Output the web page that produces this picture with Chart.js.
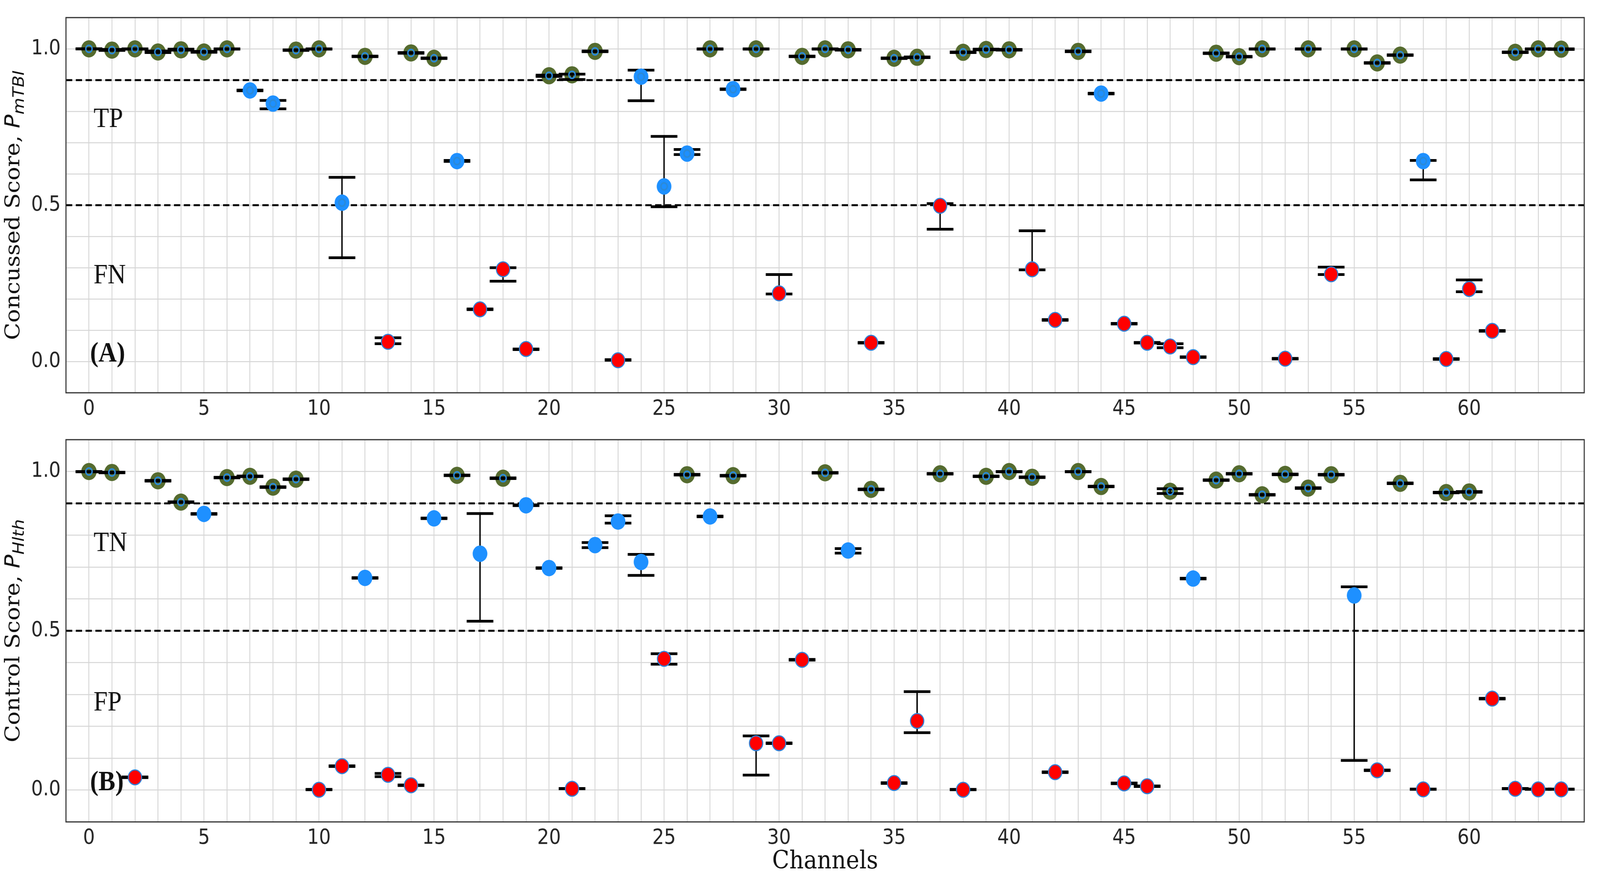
<!DOCTYPE html>
<html>
<head>
<meta charset="utf-8">
<title>Channel scores</title>
<script src="https://cdn.jsdelivr.net/npm/chart.js@4.4.1/dist/chart.umd.min.js"></script>
<style>
  html, body { margin: 0; padding: 0; background: #fff; overflow: hidden; }
  canvas { position: absolute; left: 0; display: block; }
</style>
</head>
<body>
<canvas id="chartA"></canvas>
<canvas id="chartB"></canvas>
<script>
// channel index on the x axis
const channels = [0,1,2,3,4,5,6,7,8,9,10,11,12,13,14,15,16,17,18,19,20,21,22,23,24,25,26,27,28,29,30,31,
  32,33,34,35,36,37,38,39,40,41,42,43,44,45,46,47,48,49,50,51,52,53,54,55,56,57,58,59,60,61,62,63,64];
const xTickLabels = [0,5,10,15,20,25,30,35,40,45,50,55,60];
const yTickLabels = [0.0,0.5,1.0];
const thresholds = [0.9,0.5];

// (A) concussed score per channel, with lower / upper error caps
const scoreA = [1.0,0.996,1.0,0.99,0.997,0.99,1.0,0.867,0.825,0.996,1.0,0.508,0.976,0.063,0.987,0.970,
  0.641,0.167,0.295,0.040,0.914,0.917,0.992,0.004,0.911,0.560,0.665,1.0,0.871,1.0,0.218,0.976,
  1.0,0.997,0.060,0.970,0.973,0.498,0.989,0.998,0.997,0.295,0.133,0.992,0.857,0.121,0.060,0.048,
  0.014,0.986,0.975,1.0,0.009,1.0,0.279,1.0,0.955,0.980,0.641,0.008,0.232,0.098,0.989,1.0,0.999];
const lowA = [1.0,0.995,0.999,0.988,0.996,0.989,0.999,0.866,0.808,0.995,0.999,0.332,0.975,0.057,0.986,0.969,
  0.640,0.166,0.257,0.038,0.912,0.902,0.991,0.004,0.834,0.495,0.662,0.999,0.870,0.999,0.216,0.975,
  0.999,0.996,0.059,0.969,0.972,0.423,0.988,0.997,0.996,0.293,0.132,0.991,0.856,0.120,0.059,0.044,
  0.013,0.985,0.974,0.999,0.008,0.999,0.278,0.999,0.954,0.979,0.581,0.007,0.223,0.097,0.988,0.999,0.998];
const highA = [1.0,0.998,1.0,0.993,0.999,0.992,1.0,0.868,0.835,0.997,1.0,0.589,0.977,0.076,0.988,0.971,
  0.643,0.168,0.300,0.040,0.916,0.919,0.993,0.006,0.932,0.720,0.678,1.0,0.872,1.0,0.278,0.977,
  1.0,0.998,0.061,0.971,0.974,0.505,0.990,0.999,0.998,0.418,0.134,0.993,0.858,0.122,0.061,0.057,
  0.015,0.987,0.976,1.0,0.010,1.0,0.302,1.0,0.956,0.981,0.643,0.009,0.261,0.099,0.990,1.0,1.0];
// 2 = above 0.9 (green), 1 = between (blue), 0 = below 0.5 (red)
const levelA = [2,2,2,2,2,2,2,1,1,2,2,1,2,0,2,2,1,0,0,0,2,2,2,0,1,1,1,2,1,2,0,2,
  2,2,0,2,2,0,2,2,2,0,0,2,1,0,0,0,0,2,2,2,0,2,0,2,2,2,1,0,0,0,2,2,2];

// (B) control score per channel
const scoreB = [1.0,0.997,0.040,0.971,0.904,0.867,0.981,0.985,0.951,0.976,0.001,0.075,0.666,0.048,0.015,0.853,
  0.988,0.742,0.979,0.894,0.697,0.004,0.769,0.843,0.716,0.412,0.990,0.859,0.987,0.147,0.147,0.409,
  0.996,0.752,0.944,0.022,0.217,0.993,0.001,0.985,1.0,0.982,0.056,1.0,0.953,0.021,0.012,0.938,
  0.664,0.973,0.993,0.927,0.991,0.948,0.990,0.611,0.062,0.963,0.002,0.934,0.936,0.287,0.004,0.002,0.002];
const lowB = [0.999,0.996,0.039,0.970,0.903,0.866,0.980,0.984,0.950,0.975,0.001,0.074,0.665,0.042,0.014,0.852,
  0.987,0.530,0.978,0.893,0.696,0.004,0.761,0.838,0.674,0.395,0.989,0.858,0.986,0.047,0.146,0.408,
  0.995,0.744,0.943,0.021,0.180,0.992,0.001,0.984,0.999,0.981,0.055,0.999,0.952,0.020,0.011,0.931,
  0.663,0.972,0.992,0.926,0.990,0.947,0.989,0.093,0.061,0.962,0.002,0.933,0.935,0.286,0.004,0.002,0.002];
const highB = [1.0,0.998,0.041,0.972,0.905,0.868,0.982,0.986,0.952,0.977,0.002,0.076,0.667,0.052,0.016,0.854,
  0.989,0.868,0.980,0.895,0.698,0.005,0.777,0.861,0.740,0.428,0.991,0.860,0.988,0.170,0.148,0.410,
  0.997,0.758,0.945,0.023,0.309,0.994,0.002,0.986,1.0,0.983,0.057,1.0,0.954,0.022,0.013,0.946,
  0.665,0.974,0.994,0.928,0.992,0.949,0.991,0.638,0.063,0.964,0.003,0.935,0.937,0.288,0.005,0.003,0.003];
const levelB = [2,2,0,2,2,1,2,2,2,2,0,0,1,0,0,1,2,1,2,1,1,0,1,1,1,0,2,1,2,0,0,0,
  2,1,2,0,0,2,0,2,2,2,0,2,2,0,0,2,1,2,2,2,2,2,2,1,0,2,0,2,2,0,0,0,0];

const GREEN = '#556B2F';
const BLUE = '#1E90FF';
const RED = '#FF0000';

// charts are drawn on a fixed 4562 x 2244 drawing grid, then stretched to fill the viewport
const SY = window.innerHeight / 2244;

function placeCanvas(id, top, height) {
  const c = document.getElementById(id);
  c.width = 4562;
  c.height = height;
  c.style.top = (top * SY) + 'px';
  c.style.width = window.innerWidth + 'px';
  c.style.height = (height * SY) + 'px';
}
placeCanvas('chartA', 0, 1100);
placeCanvas('chartB', 1080, 1164);

Chart.defaults.font.family = '"DejaVu Sans", sans-serif';
Chart.defaults.color = '#262626';

// dashed threshold lines, region labels, frame and the mixed-font y title
const decorPlugin = {
  id: 'decor',
  beforeDatasetsDraw(chart) {
    const ctx = chart.ctx, area = chart.chartArea;
    const x = chart.scales.x, y = chart.scales.y;
    const cfg = chart.options.plugins.decor;
    ctx.save();
    ctx.strokeStyle = '#000';
    ctx.lineWidth = 5;
    ctx.setLineDash([18, 10]);
    thresholds.forEach(t => {
      const py = y.getPixelForValue(t);
      ctx.beginPath();
      ctx.moveTo(area.left, py);
      ctx.lineTo(area.right, py);
      ctx.stroke();
    });
    ctx.setLineDash([]);
    ctx.fillStyle = '#111';
    ctx.textBaseline = 'alphabetic';
    ctx.textAlign = 'left';
    ctx.font = '72px "Liberation Serif", serif';
    ctx.fillText(cfg.upper, x.getPixelForValue(0.2), y.getPixelForValue(0.75));
    ctx.fillText(cfg.lower, x.getPixelForValue(0.2), y.getPixelForValue(0.25));
    ctx.font = 'bold 72px "Liberation Serif", serif';
    ctx.fillText(cfg.tag, x.getPixelForValue(0.05), y.getPixelForValue(0.0));
    ctx.restore();
  },
  afterDraw(chart) {
    const ctx = chart.ctx, area = chart.chartArea;
    const cfg = chart.options.plugins.decor;
    ctx.save();
    ctx.strokeStyle = '#333';
    ctx.lineWidth = 3;
    ctx.strokeRect(area.left, area.top, area.right - area.left, area.bottom - area.top);

    const mainFont = '58px "DejaVu Serif", serif';
    const symFont = 'italic 58px "DejaVu Sans", sans-serif';
    const subFont = 'italic 44px "DejaVu Sans", sans-serif';
    ctx.font = mainFont; const w1 = ctx.measureText(cfg.title).width;
    ctx.font = symFont; const w2 = ctx.measureText('P').width;
    ctx.font = subFont; const w3 = ctx.measureText(cfg.sub).width;
    const total = w1 + w2 + w3;
    ctx.translate(55, (area.top + area.bottom) / 2);
    ctx.rotate(-Math.PI / 2);
    ctx.fillStyle = '#111';
    ctx.textBaseline = 'alphabetic';
    ctx.textAlign = 'left';
    let tx = -total / 2;
    ctx.font = mainFont; ctx.fillText(cfg.title, tx, 0); tx += w1;
    ctx.font = symFont; ctx.fillText('P', tx, 0); tx += w2;
    ctx.font = subFont; ctx.fillText(cfg.sub, tx, 13);
    ctx.restore();
  }
};

function buildPanel(id, score, low, high, level, opts) {
  const pick = lv => channels.filter((c, i) => level[i] === lv).map(c => ({x: c, y: score[c]}));
  const bars = [];
  const caps = [];
  channels.forEach((c, i) => {
    bars.push({x: c, y: low[i]}, {x: c, y: high[i]}, {x: c, y: null});
    caps.push({x: c, y: low[i]}, {x: c, y: high[i]});
  });
  const rings = channels.filter((c, i) => level[i] === 2 || (opts.blueRing && level[i] === 1))
    .map(c => ({x: c, y: score[c]}));

  const ctx = document.getElementById(id).getContext('2d');
  return new Chart(ctx, {
    type: 'scatter',
    data: {
      datasets: [
        { label: 'high', data: pick(2), order: 6, pointRadius: 22, pointBackgroundColor: GREEN,
          pointBorderWidth: 0 },
        { label: 'error', type: 'line', data: bars, order: 5, borderColor: '#000', borderWidth: 4,
          pointRadius: 0, spanGaps: false, fill: false },
        { label: 'caps', data: caps, order: 4, pointStyle: 'line', pointRadius: 38,
          pointBorderColor: '#000', pointBorderWidth: 7 },
        { label: 'mid', data: pick(1), order: 3, pointRadius: 21, pointBackgroundColor: BLUE,
          pointBorderWidth: 0 },
        { label: 'low', data: pick(0), order: 3, pointRadius: 19, pointBackgroundColor: RED,
          pointBorderColor: '#2f80d6', pointBorderWidth: 3 },
        { label: 'ring', data: rings, order: 1, pointRadius: 9, pointBackgroundColor: 'rgba(0,0,0,0)',
          pointBorderColor: '#2b8ad8', pointBorderWidth: 4 }
      ]
    },
    options: {
      responsive: false,
      devicePixelRatio: 1,
      animation: false,
      events: [],
      layout: { padding: { top: opts.padTop, right: 12, left: 0, bottom: 0 } },
      plugins: {
        legend: { display: false },
        tooltip: { enabled: false },
        decor: { title: opts.title, sub: opts.sub, upper: opts.upper, lower: opts.lower, tag: opts.tag }
      },
      scales: {
        x: {
          type: 'linear', min: -1, max: 65,
          afterFit: s => { s.height = opts.xHeight; s.paddingLeft = 0; s.paddingRight = 0; },
          border: { display: false },
          grid: { color: '#d6d6d6', lineWidth: 2.5, drawTicks: false },
          ticks: {
            stepSize: 1, autoSkip: false, maxRotation: 0, minRotation: 0, padding: 10,
            font: { size: 53 },
            callback: v => xTickLabels.includes(v) ? String(v) : ''
          },
          title: {
            display: opts.showXTitle, text: 'Channels', color: '#111',
            font: { family: '"DejaVu Serif", serif', size: 64 }, padding: { top: 0, bottom: 0 }
          }
        },
        y: {
          type: 'linear', min: -0.1, max: 1.1,
          afterFit: s => { s.width = 188; s.paddingTop = 0; s.paddingBottom = 0; },
          border: { display: false },
          grid: { color: '#d6d6d6', lineWidth: 2.5, drawTicks: false },
          ticks: {
            stepSize: 0.1, autoSkip: false, padding: 15,
            font: { size: 53 },
            callback: v => {
              const r = Math.round(v * 10) / 10;
              return yTickLabels.includes(r) ? r.toFixed(1) : '';
            }
          }
        }
      }
    },
    plugins: [decorPlugin]
  });
}

buildPanel('chartA', scoreA, lowA, highA, levelA, {
  padTop: 8, xHeight: 95, showXTitle: false, blueRing: true,
  title: 'Concussed Score, ', sub: 'mTBI', upper: 'TP', lower: 'FN', tag: '(A)'
});
buildPanel('chartB', scoreB, lowB, highB, levelB, {
  padTop: 27, xHeight: 141, showXTitle: true, blueRing: false,
  title: 'Control Score, ', sub: 'Hlth', upper: 'TN', lower: 'FP', tag: '(B)'
});
</script>
</body>
</html>
